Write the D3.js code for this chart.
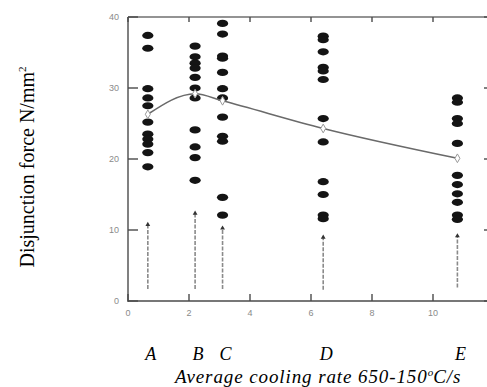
<!DOCTYPE html>
<html><head><meta charset="utf-8">
<script src="https://cdn.jsdelivr.net/npm/d3@7"></script>
<style>
html,body{margin:0;padding:0;background:#fff;}
svg{display:block;}
</style></head>
<body>
<svg id="chart" width="487" height="387" xmlns="http://www.w3.org/2000/svg"></svg>
<script>
// ---- data ----
const groups = ["A", "B", "C", "D", "E"];
const coolingRate = [0.65, 2.2, 3.1, 6.4, 10.8];
const forceA = [37.4, 35.6, 29.9, 28.6, 27.5, 25.2, 23.5, 22.8, 22.1, 20.9, 18.9];
const forceB = [35.9, 34.4, 33.5, 32.8, 31.5, 30.0, 28.6, 24.1, 21.7, 20.2, 17.0];
const forceC = [39.1, 37.6, 34.5, 34.2, 32.2, 29.9, 28.6, 25.9, 23.2, 22.5, 14.6, 12.1];
const forceD = [37.3, 36.8, 35.1, 32.9, 32.4, 31.2, 25.7, 22.4, 16.8, 15.0, 12.1, 11.6];
const forceE = [28.6, 28.0, 25.7, 25.0, 22.2, 17.7, 16.4, 15.1, 13.9, 12.1, 11.5];
const meanForce = [26.3, 29.2, 28.2, 24.3, 20.1];
const rangeLow = [1.7, 1.7, 1.7, 1.6, 1.9];
const rangeHigh = [10.9, 12.5, 10.4, 9.1, 9.3];
const xTicks = [0, 2, 4, 6, 8, 10, 12];
const yTicks = [0, 10, 20, 30, 40];
const yTitle = "Disjunction force N/mm";
const xTitle = "Average cooling rate 650-150";

const forces = [forceA, forceB, forceC, forceD, forceE];

const svg = d3.select("#chart");
const x = d3.scaleLinear().domain([0, 12]).range([128, 494]);
const y = d3.scaleLinear().domain([0, 40]).range([301, 17]);

const axisColor = "#4a4a4a";
const labelColor = "#8a8a8a";
const labelFont = "Liberation Sans, Arial, sans-serif";

const X0 = x(0), X1 = x(12), Y0 = y(0), Y1 = y(40);

// tick labels
svg.append("g").selectAll("text").data(yTicks).enter().append("text")
  .attr("x", X0 - 9).attr("y", d => y(d)).attr("dy", "0.35em")
  .attr("text-anchor", "end").attr("fill", labelColor)
  .attr("font-family", labelFont).attr("font-size", 9)
  .text(d => d);
svg.append("g").selectAll("text").data(xTicks).enter().append("text")
  .attr("x", d => x(d)).attr("y", Y0 + 15)
  .attr("text-anchor", "middle").attr("fill", labelColor)
  .attr("font-family", labelFont).attr("font-size", 9)
  .text(d => d);

// range bars (dashed vertical)
const rg = svg.append("g");
groups.forEach((g, i) => {
  rg.append("line")
    .attr("x1", x(coolingRate[i])).attr("x2", x(coolingRate[i]))
    .attr("y1", y(rangeLow[i])).attr("y2", y(rangeHigh[i]))
    .attr("stroke", "#8a8a8a").attr("stroke-width", 1.6).attr("stroke-dasharray", "4,1.5");
  rg.append("path")
    .attr("d", d3.symbol(d3.symbolTriangle, 10)())
    .attr("transform", `translate(${x(coolingRate[i])},${y(rangeHigh[i]) + 1})`)
    .attr("fill", "#333");
});

// dots
const dg = svg.append("g");
groups.forEach((g, i) => {
  dg.selectAll(null).data(forces[i]).enter().append("ellipse")
    .attr("cx", x(coolingRate[i])).attr("cy", d => y(d))
    .attr("rx", 5.6).attr("ry", 3.6)
    .attr("fill", "#141414");
});

// mean line
const meanPts = groups.map((g, i) => [coolingRate[i], meanForce[i]]);
svg.append("path")
  .datum(meanPts)
  .attr("d", d3.line().x(d => x(d[0])).y(d => y(d[1])).curve(d3.curveMonotoneX))
  .attr("fill", "none").attr("stroke", "#6a6a6a").attr("stroke-width", 1.6);
svg.append("g").selectAll("path").data(meanPts).enter().append("path")
  .attr("d", d3.symbol(d3.symbolDiamond, 22)())
  .attr("transform", d => `translate(${x(d[0])},${y(d[1])})`)
  .attr("fill", "#fff").attr("stroke", "#999").attr("stroke-width", 1);

// group letters
svg.append("g").selectAll("text").data(groups).enter().append("text")
  .attr("x", (d, i) => x(coolingRate[i]) + 3)
  .attr("y", 360)
  .attr("text-anchor", "middle")
  .attr("font-family", "Liberation Serif, Times New Roman, serif")
  .attr("font-style", "italic")
  .attr("font-size", 18)
  .text(d => d);

// x title
const xt = svg.append("text")
  .attr("x", 175).attr("y", 383)
  .attr("font-family", "Liberation Serif, Times New Roman, serif")
  .attr("font-style", "italic")
  .attr("font-size", 19)
  .attr("letter-spacing", 0.9);
xt.append("tspan").text(xTitle);
xt.append("tspan").attr("dy", -7).attr("font-size", 11).attr("letter-spacing", 0).text("o");
xt.append("tspan").attr("dy", 7).text("C/s");

// y title
const yt = svg.append("text")
  .attr("transform", "translate(34,167) rotate(-90)")
  .attr("text-anchor", "middle")
  .attr("font-family", "Liberation Serif, Times New Roman, serif")
  .attr("font-size", 20);
yt.append("tspan").text(yTitle);
yt.append("tspan").attr("dy", -8).attr("font-size", 11).text("2");

// frame and ticks, drawn last
const fr = svg.append("g").attr("class", "frame");
const seg = (x1, y1, x2, y2, c) => fr.append("line")
  .attr("x1", x1).attr("y1", y1).attr("x2", x2).attr("y2", y2)
  .style("stroke", c || axisColor).style("stroke-width", "1.4px");
seg(X0, Y1, X0, Y0 + 1);
seg(X0, Y0, X1, Y0);
seg(X0, Y1, X1, Y1, "#6f6f6f");
seg(X1, Y0, X1, Y1);
yTicks.forEach(d => { seg(X0, y(d), X0 + 10, y(d)); seg(X1, y(d), X1 - 10, y(d)); });
xTicks.forEach(d => { seg(x(d), Y0, x(d), Y0 - 7); seg(x(d), Y1, x(d), Y1 + 5); });
</script>
</body></html>
